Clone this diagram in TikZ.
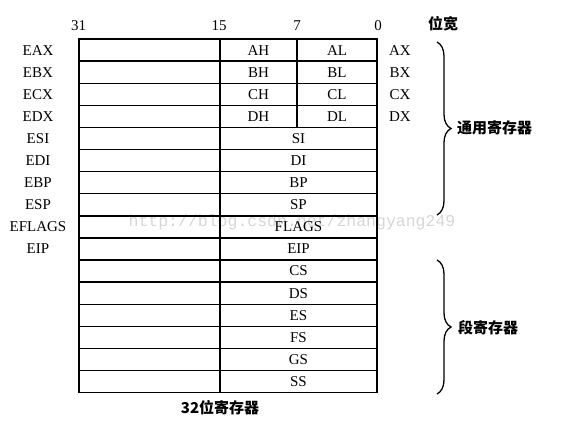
\documentclass[tikz,border=0pt]{standalone}
\usepackage{fontspec}
\setmainfont{Liberation Serif}
\newfontfamily\cjk{Noto Sans CJK SC}
\newfontfamily\wmfont{Liberation Mono}
\usetikzlibrary{decorations.pathreplacing}
\begin{document}
\begin{tikzpicture}[x=1pt,y=1pt,
  lab/.style={font=\fontsize{15}{15}\selectfont, inner sep=0pt, anchor=center},
  cn/.style={font=\cjk\bfseries\fontsize{15}{15}\selectfont, inner sep=0pt},
  gridline/.style={line width=1.4pt},
  brc/.style={decorate, decoration={brace, amplitude=14pt}, line width=1.3pt}]
\useasboundingbox (0,0) rectangle (566,-423);
\def\rh{22.1}
% watermark
\node[font=\wmfont\fontsize{16.5}{16.5}\selectfont, text=black!16, inner sep=0pt] (wm) at (292,-222) {http://blog.csdn.net/zhangyang249};
% grid
\coordinate (tl) at (79,-39);
\coordinate (br) at (377,-392.6);
\draw[gridline] (tl) rectangle (br);
\foreach \i in {1,...,15} \draw[gridline] (79,{-39-\i*\rh}) -- (377,{-39-\i*\rh});
\draw[gridline] (220,-39) -- (220,-392.6);
\draw[gridline] (297,-39) -- (297,{-39-4*\rh});
% bit numbers
\node[lab] (b31) at (78.5,-25.5) {31};
\node[lab] (b15) at (219,-25.5) {15};
\node[lab] (b7) at (297,-25.5) {7};
\node[lab] (b0) at (378,-25.5) {0};
\node[cn] (kw) at (443,-24) {位宽};
% left labels
\foreach \n [count=\i from 0] in {EAX,EBX,ECX,EDX,ESI,EDI,EBP,ESP,EFLAGS,EIP}
  \node[lab] (l\i) at (38,{-39-(\i+0.5)*\rh}) {\n};
% 8-bit halves and 16-bit names
\foreach \hh/\lll/\xx [count=\i from 0] in {AH/AL/AX,BH/BL/BX,CH/CL/CX,DH/DL/DX}{
  \node[lab] (h\i) at (258.5,{-39-(\i+0.5)*\rh}) {\hh};
  \node[lab] (lo\i) at (337,{-39-(\i+0.5)*\rh}) {\lll};
  \node[lab] (x\i) at (400,{-39-(\i+0.5)*\rh}) {\xx};
}
\foreach \n [count=\i from 4] in {SI,DI,BP,SP,FLAGS,EIP,CS,DS,ES,FS,GS,SS}
  \node[lab] (r\i) at (298.5,{-39-(\i+0.5)*\rh}) {\n};
% braces
\coordinate (g1) at (437,-42);
\coordinate (g2) at (437,-215);
\coordinate (s1) at (437,-260);
\coordinate (s2) at (437,-394);
\draw[brc] (g1) -- (g2);
\draw[brc] (s1) -- (s2);
\node[cn, anchor=west] (gen) at (457,-127.5) {通用寄存器};
\node[cn, anchor=west] (seg) at (458,-327.5) {段寄存器};
\node[cn] (r32) at (220,-408) {32位寄存器};
\end{tikzpicture}
\end{document}
